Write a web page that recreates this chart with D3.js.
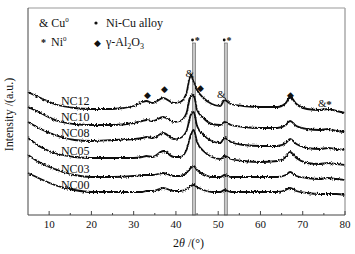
<!DOCTYPE html>
<html>
<head>
<meta charset="utf-8">
<script src="https://cdn.jsdelivr.net/npm/d3@7"></script>
<style>
  body { margin: 0; background: #fff; }
  svg text { font-family: "Liberation Serif", "Times New Roman", serif; fill: #111; }
</style>
</head>
<body>
<div id="chart"></div>
<script>
// 2theta positions (deg) sampled from the patterns
const angles = [5, 8, 12, 16, 20, 25, 30, 32, 33, 34.5, 37, 39.5, 41, 42.5, 43.5, 44.2, 45, 46.5, 48.5, 50.5, 51.5, 53, 56, 60, 64, 66, 67, 68.5, 71, 74, 76, 78, 80]

const sampleNames = ["NC12", "NC10", "NC08", "NC05", "NC03", "NC00"]
// intensities (a.u., stacked as plotted)
const nc12 = [123,117,110,107,106,106,109,113,114,112,117,112,113,122,140,133,125,117,111,109,115,111,109,108,108,112,118,111,106,105,106,104,102]
const nc10 = [108,102,94,91,90,90,92,94,95,94,98,93,94,102,119,120,105,97,91,90,93,90,88,87,87,90,94,89,86,85,86,84,83]
const nc08 = [93,86,79,75,74,75,76,77,78,77,82,76,77,84,100,103,89,80,74,72,77,73,70,69,69,72,76,71,67,66,67,66,65]
const nc05 = [77,68,61,58,57,57,57,58,59,58,64,58,58,65,80,85,73,64,58,56,59,56,54,53,54,58,63,57,52,51,52,51,50]
const nc03 = [60,52,45,40,38,38,39,40,40,40,42,39,39,42,47,49,45,41,38,38,40,38,38,38,38,40,43,39,37,36,37,36,35]
const nc00 = [42,36,29,25,23,23,23,23,24,24,27,24,24,26,29,30,28,25,23,23,25,23,23,23,23,25,27,24,22,21,21,21,20]
const seriesValues = [nc12, nc10, nc08, nc05, nc03, nc00]
const labelAngle = 12.8
const labelLevel = [114, 98, 82, 64, 46, 30]

// Ni-Cu alloy reference positions
const refLines = [44.3, 51.8]
// phase markers over peaks: [symbol, angle, level]
const peakMarks = [["\u25C6", 33.2, 121], ["\u25C6", 37.2, 127], ["&", 43.3, 142], ["\u25C6", 45.7, 128],
                   ["&", 50.7, 121], ["\u25C6", 67.0, 121], ["&", 74.6, 112], ["*", 76.2, 111]]
const xTicks = [10, 20, 30, 40, 50, 60, 70, 80]
const xMinor = [15, 25, 35, 45, 55, 65, 75]

const width = 355
const height = 254
const margin = {top: 8, left: 28, bottom: 39, right: 10}

const x = d3.scaleLinear().domain([5, 80]).range([margin.left, width - margin.right])
const y = d3.scaleLinear().domain([0, 207]).range([height - margin.bottom, margin.top])

const svg = d3.select("#chart").append("svg")
    .attr("width", width)
    .attr("height", height)

// jitter filter to get the noisy look of the raw scans
const defs = svg.append("defs")
const filt = defs.append("filter").attr("id", "noisy")
    .attr("x", "-5%").attr("y", "-20%").attr("width", "110%").attr("height", "140%")
filt.append("feTurbulence").attr("type", "fractalNoise")
    .attr("baseFrequency", "1.3 0.4").attr("numOctaves", 2).attr("seed", 3).attr("result", "n")
filt.append("feColorMatrix").attr("in", "n").attr("type", "matrix")
    .attr("values", "0 0 0 0 0.5  0 1 0 0 0  0 0 0 0 0  0 0 0 0 1").attr("result", "n2")
filt.append("feDisplacementMap").attr("in", "SourceGraphic").attr("in2", "n2")
    .attr("scale", 3.5).attr("xChannelSelector", "R").attr("yChannelSelector", "G")

const x0 = margin.left, x1 = width - margin.right
const y0 = height - margin.bottom, y1 = margin.top

// reference bands
refLines.forEach(a => {
    svg.append("rect")
        .attr("x", x(a) - 1.5).attr("y", y(172))
        .attr("width", 3).attr("height", y0 - y(172))
        .attr("fill", "#c8c8c8").attr("stroke", "#6e6e6e").attr("stroke-width", 0.7)
    svg.append("circle").attr("cx", x(a) - 1.6).attr("cy", y(175)).attr("r", 1.4).attr("fill", "#111")
    svg.append("text").attr("x", x(a) + 0.6).attr("y", y(175) + 4)
        .style("font-size", "10px").style("font-weight", "bold").text("*")
})

// patterns
const line = d3.line()
    .x((d, i) => x(angles[i]))
    .y(d => y(d))
    .curve(d3.curveMonotoneX)

const curves = svg.append("g").attr("filter", "url(#noisy)")
seriesValues.forEach(vals => {
    curves.append("path")
        .attr("d", line(vals))
        .attr("fill", "none")
        .attr("stroke", "#111")
        .attr("stroke-width", 1.8)
})

sampleNames.forEach((name, i) => {
    svg.append("text")
        .attr("x", x(labelAngle))
        .attr("y", y(labelLevel[i]) + 4)
        .style("font-size", "12px")
        .text(name)
})

peakMarks.forEach(([s, a, lv]) => {
    svg.append("text")
        .attr("x", x(a)).attr("y", y(lv) + 4)
        .attr("text-anchor", "middle")
        .style("font-size", s === "\u25C6" ? "9px" : "11px")
        .style("font-weight", s === "*" ? "bold" : "normal")
        .text(s)
})

// frame
svg.append("line").attr("x1", x0).attr("x2", x1).attr("y1", y1).attr("y2", y1).attr("stroke", "#999")
svg.append("line").attr("x1", x1).attr("x2", x1).attr("y1", y1).attr("y2", y0).attr("stroke", "#aaa").attr("stroke-width", 1.5)
svg.append("line").attr("x1", x0).attr("x2", x0).attr("y1", y1).attr("y2", y0).attr("stroke", "#444")
svg.append("line").attr("x1", x0).attr("x2", x1).attr("y1", y0).attr("y2", y0).attr("stroke", "#444")

svg.selectAll("line.major").data(xTicks).enter().append("line")
    .attr("x1", d => x(d)).attr("x2", d => x(d))
    .attr("y1", y0).attr("y2", y0 - 4).attr("stroke", "#444")
svg.selectAll("line.minor").data(xMinor).enter().append("line")
    .attr("x1", d => x(d)).attr("x2", d => x(d))
    .attr("y1", y0).attr("y2", y0 - 2).attr("stroke", "#444")
svg.selectAll("text.tick").data(xTicks).enter().append("text")
    .attr("x", d => x(d)).attr("y", y0 + 13)
    .attr("text-anchor", "middle")
    .style("font-size", "11px")
    .text(d => d)

const xt = svg.append("text")
    .attr("x", (x0 + x1) / 2 + 2).attr("y", height - 7)
    .attr("text-anchor", "middle")
    .style("font-size", "12px")
xt.append("tspan").text("2")
xt.append("tspan").style("font-style", "italic").text("\u03B8")
xt.append("tspan").text(" /(\u00B0)")

svg.append("text")
    .attr("transform", `translate(13,${(y0 + y1) / 2 + 3}) rotate(-90)`)
    .attr("text-anchor", "middle")
    .style("font-size", "12px")
    .text("Intensity /(a.u.)")

// legend
const lg = svg.append("g").style("font-size", "12px")
lg.append("text").attr("x", 39).attr("y", 27).text("& Cu").append("tspan")
    .attr("dy", -5).style("font-size", "7px").text("0")
lg.append("circle").attr("cx", 96).attr("cy", 23).attr("r", 1.6).attr("fill", "#111")
lg.append("text").attr("x", 106).attr("y", 27).text("Ni-Cu alloy")
lg.append("text").attr("x", 41).attr("y", 46).style("font-weight", "bold").style("font-size", "10px").text("*")
lg.append("text").attr("x", 51).attr("y", 46).text("Ni").append("tspan")
    .attr("dy", -5).style("font-size", "7px").text("0")
lg.append("text").attr("x", 97).attr("y", 46).attr("text-anchor", "middle").style("font-size", "9px").text("\u25C6")
const al = lg.append("text").attr("x", 106).attr("y", 46)
al.append("tspan").text("\u03B3-Al")
al.append("tspan").attr("dy", 3).style("font-size", "8px").text("2")
al.append("tspan").attr("dy", -3).text("O")
al.append("tspan").attr("dy", 3).style("font-size", "8px").text("3")
</script>
</body>
</html>
